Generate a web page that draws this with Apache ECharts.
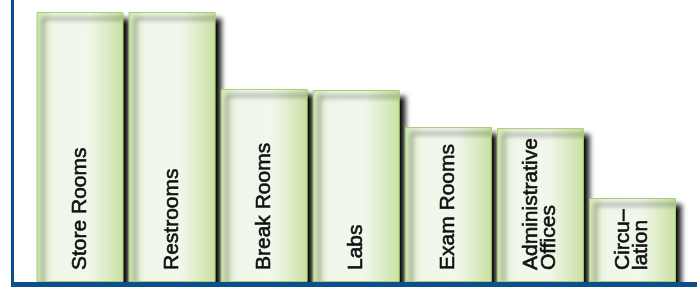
<!DOCTYPE html>
<html>
<head>
<meta charset="utf-8">
<script src="https://cdn.jsdelivr.net/npm/echarts@6/dist/echarts.min.js"></script>
<style>
  html, body { margin: 0; padding: 0; background: #fff; }
  #chart { width: 697px; height: 287px; }
</style>
</head>
<body>
<div id="chart"></div>
<script>
const categories = ['Store Rooms', 'Restrooms', 'Break Rooms', 'Labs', 'Exam Rooms', 'Administrative\nOffices', 'Circu–\nlation']
const values = [100, 100, 71.5, 71.1, 57.4, 57, 31.1]

const myChart = echarts.init(document.getElementById('chart'))

// pale green bar with darker green edges
const barFill = new echarts.graphic.LinearGradient(0, 0, 1, 0, [
  { offset: 0, color: '#d2e6b5' },
  { offset: 0.2, color: '#f0f6ea' },
  { offset: 0.6, color: '#f1f7eb' },
  { offset: 0.88, color: '#d5e8b9' },
  { offset: 1, color: '#c8e0a2' }
])

myChart.setOption({
  animation: false,
  grid: { left: 34, right: 18.5, top: 12, bottom: 5 },
  xAxis: {
    type: 'category',
    data: categories,
    axisLine: { show: false },
    axisTick: { show: false },
    axisLabel: { show: false }
  },
  yAxis: {
    type: 'value',
    min: 0,
    max: 100,
    show: false
  },
  // frame lines on the left and bottom
  graphic: [
    {
      type: 'rect',
      shape: { x: 11, y: 0, width: 3, height: 287 },
      style: { fill: '#0c4f8d' },
      z: 10
    },
    {
      type: 'rect',
      shape: { x: 11, y: 282, width: 686, height: 5 },
      style: { fill: '#0c4f8d' },
      z: 10
    }
  ],
  series: [
    {
      type: 'bar',
      data: values,
      barWidth: 87,
      itemStyle: {
        color: barFill,
        borderColor: '#a6cf70',
        borderWidth: 1,
        shadowColor: 'rgba(0, 0, 0, 1)',
        shadowBlur: 5,
        shadowOffsetX: 6,
        shadowOffsetY: 6
      },
      label: {
        show: true,
        formatter: (p) => p.name,
        position: 'insideBottom',
        distance: 12,
        rotate: 90,
        align: 'left',
        verticalAlign: 'middle',
        fontFamily: '"Liberation Sans", Arial, sans-serif',
        fontSize: 21,
        lineHeight: 18,
        color: '#111',
        textBorderColor: '#111',
        textBorderWidth: 0.6
      }
    }
  ]
})
</script>
</body>
</html>
